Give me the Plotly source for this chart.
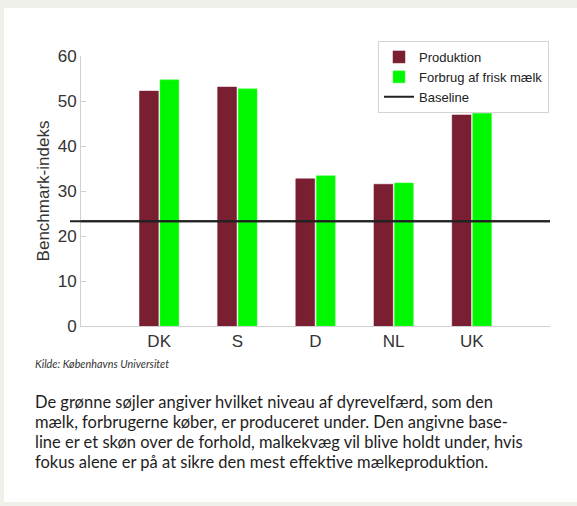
import plotly.graph_objects as go

categories = ["DK", "S", "D", "NL", "UK"]
positions = [1, 2, 3, 4, 5]
produktion = [52.2, 53.1, 32.7, 31.5, 46.9]
forbrug = [54.7, 52.7, 33.4, 31.8, 47.3]
baseline = 23.3
y_ticks = [0, 10, 20, 30, 40, 50, 60]

source_text = "Kilde: Københavns Universitet"
caption_lines = [
    "De grønne søjler angiver hvilket niveau af dyrevelfærd, som den",
    "mælk, forbrugerne køber, er produceret under. Den angivne base-",
    "line er et skøn over de forhold, malkekvæg vil blive holdt under, hvis",
    "fokus alene er på at sikre den mest effektive mælkeproduktion.",
]

W, H = 577, 506
L, R, T, B = 81, 27, 56, 180
pw, ph = W - L - R, H - T - B

def px(x):
    return (x - L) / pw

def py(y):
    return (H - B - y) / ph

fig = go.Figure()
fig.add_trace(go.Bar(
    x=positions, y=produktion, name="Produktion",
    marker=dict(color="#7a1e31", line=dict(color="#7a1e31", width=0.5)),
))
fig.add_trace(go.Bar(
    x=positions, y=forbrug, name="Forbrug af frisk mælk",
    marker=dict(color="#00f700", line=dict(color="#40ff40", width=0.5)),
))
fig.add_trace(go.Scatter(
    x=[0, 6], y=[baseline, baseline], mode="lines", name="Baseline",
    line=dict(color="#222222", width=2),
))

# white panel behind everything
fig.add_shape(type="rect", xref="paper", yref="paper",
              x0=px(4), x1=px(W + 2), y0=py(502), y1=py(8),
              fillcolor="white", line=dict(width=0), layer="below")
# baseline extension beyond left axis
fig.add_shape(type="line", xref="paper", yref="y",
              x0=px(70), x1=1.0, y0=baseline, y1=baseline,
              line=dict(color="#222222", width=2), layer="above")

fig.add_annotation(
    text=source_text, xref="paper", yref="paper",
    x=px(33), y=py(363), xanchor="left", yanchor="middle", showarrow=False,
    font=dict(family="Lato", size=10.8, color="#333333", style="italic"),
)
for i, line in enumerate(caption_lines):
    fig.add_annotation(
        text=line, xref="paper", yref="paper",
        x=px(33), y=py(402 + 20 * i), xanchor="left", yanchor="middle",
        showarrow=False,
        font=dict(family="Lato", size=16.5, color="#1e1e1e"),
    )

fig.update_layout(
    width=W, height=H,
    margin=dict(l=L, r=R, t=T, b=B, autoexpand=False),
    paper_bgcolor="#f0f0eb", plot_bgcolor="white",
    barmode="group", bargap=0.475, bargroupgap=0.08,
    font=dict(family="Liberation Sans, Arial", color="#333333"),
    legend=dict(
        x=px(549), y=py(41), xanchor="right", yanchor="top",
        bgcolor="white", bordercolor="#d4d4d4", borderwidth=1,
        font=dict(size=13, color="#222222"),
        tracegroupgap=0, itemwidth=30,
    ),
    showlegend=True,
)
fig.update_xaxes(
    range=[0, 6], tickvals=positions, ticktext=categories, showgrid=False,
    zeroline=False, automargin=False,
    showline=True, linecolor="#d0d0d0", linewidth=1,
    ticks="", tickfont=dict(size=17, color="#333333"),
)
fig.update_yaxes(
    range=[0, 60], tickvals=y_ticks, showgrid=False, zeroline=False,
    automargin=False,
    showline=True, linecolor="#d0d0d0", linewidth=1,
    ticks="inside", ticklen=5, tickcolor="#d0d0d0",
    tickfont=dict(size=17, color="#333333"),
    title=dict(text="Benchmark-indeks", font=dict(size=17, color="#333333"), standoff=3),
)

fig.write_html("out.html", config={"displayModeBar": False},
               post_script="document.body.style.margin='0';")
